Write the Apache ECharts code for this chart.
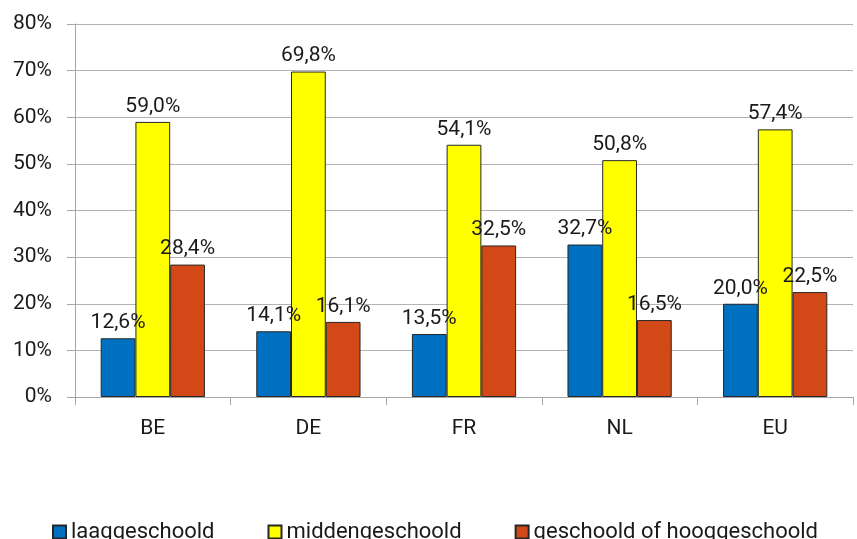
<!DOCTYPE html>
<html>
<head>
<meta charset="utf-8">
<script src="https://cdn.jsdelivr.net/npm/echarts@6/dist/echarts.min.js"></script>
<style>
  html, body { margin: 0; padding: 0; background: #fff; }
  #chart { width: 857px; height: 539px; }
</style>
</head>
<body>
<div id="chart"></div>
<script>
// landen / categorieen
var categories = ['BE', 'DE', 'FR', 'NL', 'EU'];

// aandeel per opleidingsniveau (in %)
var laag = [12.6, 14.1, 13.5, 32.7, 20.0];
var midden = [59.0, 69.8, 54.1, 50.8, 57.4];
var hoog = [28.4, 16.1, 32.5, 16.5, 22.5];

var seriesNames = ['laaggeschoold', 'middengeschoold', 'geschoold of hooggeschoold'];
var seriesColors = ['#0070C0', '#FFFF00', '#D34817'];

var fontName = 'Roboto';

function pct(v) {
    return v.toFixed(1).replace('.', ',') + '%';
}

function makeSeries(name, data, color) {
    return {
        name: name,
        type: 'bar',
        data: data,
        barGap: '0%',
        barCategoryGap: '33%',
        itemStyle: { color: color, borderColor: '#262626', borderWidth: 1 },
        label: {
            show: true,
            position: 'top',
            distance: 5,
            color: '#1a1a1a',
            fontFamily: fontName,
            fontSize: 21,
            formatter: function (p) { return pct(p.value); }
        }
    };
}

var chart = echarts.init(document.getElementById('chart'));
chart.setOption({
    animation: false,
    textStyle: { fontFamily: fontName },
    grid: { left: 75, right: 4, top: 24, bottom: 142, containLabel: false },
    legend: {
        top: 516,
        left: 47,
        itemWidth: 13,
        itemHeight: 13,
        itemGap: 53,
        icon: 'rect',
        textStyle: { fontFamily: fontName, fontSize: 22, color: '#1a1a1a' },
        data: seriesNames
    },
    xAxis: {
        type: 'category',
        data: categories,
        axisLine: { lineStyle: { color: '#a6a6a6', width: 1 } },
        axisTick: { show: true, length: 8, lineStyle: { color: '#a6a6a6' } },
        axisLabel: { color: '#1a1a1a', fontSize: 21, margin: 21, fontFamily: fontName }
    },
    yAxis: {
        type: 'value',
        min: 0,
        max: 80,
        interval: 10,
        axisLine: { show: true, lineStyle: { color: '#a6a6a6', width: 1 } },
        axisTick: { show: true, length: 8, lineStyle: { color: '#a6a6a6' } },
        splitLine: { lineStyle: { color: '#b3b3b3', width: 1 } },
        axisLabel: { color: '#1a1a1a', fontSize: 21, margin: 23, fontFamily: fontName, formatter: '{value}%' }
    },
    series: [
        makeSeries(seriesNames[0], laag, seriesColors[0]),
        makeSeries(seriesNames[1], midden, seriesColors[1]),
        makeSeries(seriesNames[2], hoog, seriesColors[2])
    ]
});
</script>
</body>
</html>
